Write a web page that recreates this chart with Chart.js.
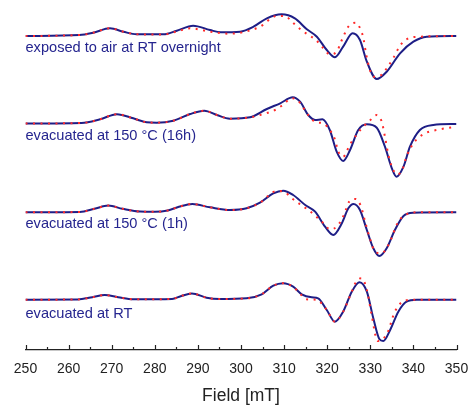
<!DOCTYPE html>
<html>
<head>
<meta charset="utf-8">
<script src="https://cdn.jsdelivr.net/npm/chart.js@4"></script>
<style>
  body { margin: 0; background: #fff; }
  canvas { display: block; }
</style>
</head>
<body>
<canvas id="myChart" width="469" height="405"></canvas>
<script>
// Trace labels, top to bottom
const traceLabels = [
    'exposed to air at RT overnight',
    'evacuated at 150 °C (16h)',
    'evacuated at 150 °C (1h)',
    'evacuated at RT'
];

// Vertical offset of each trace baseline (stacked spectra)
const offsets = [314, 226.5, 137.7, 50.3];

// exposed to air at RT overnight
const airExpField = [250, 262.5, 265.7, 269.6, 272.7, 275.8, 282, 285.1, 288.9, 292.8, 295.3, 299.8, 302.9, 306, 309.4, 312.5, 315.2, 317.6, 319.9, 321.8, 323.7, 325.9, 327.6, 329.2, 331.5, 333.8, 336.9, 340, 343.1, 350];
const airExp = [0, 1, 3.3, 7.7, 4.3, 1.7, 1.7, 5.3, 10.3, 6, 3.7, 4.3, 9.3, 17.7, 21.7, 17.7, 7, -0.7, -14, -21.3, -10.7, 2.7, -4, -25.7, -43, -35.7, -17.3, -5.7, -0.7, 0];
const airSimField = [250, 262.5, 265.7, 269.6, 272.7, 275.8, 282, 285.1, 288.2, 292.8, 297.4, 301, 304.4, 308.3, 310.2, 311.8, 313.7, 315.2, 317.4, 319, 320.6, 322.2, 323.4, 324.1, 324.9, 326.6, 327.8, 328.4, 329, 329.8, 330.7, 332.3, 333.8, 335.3, 336.9, 338.4, 341.5, 350];
const airSim = [0, 1, 3.3, 7.7, 4.3, 1.7, 1.5, 4.5, 7.7, 4.3, 2.3, 4.3, 9.3, 20, 20, 14.3, 7, 2.3, -4, -11.7, -18.3, -15.7, -4, 2.7, 9.3, 13.3, 6, -2.3, -17.3, -32.3, -40.7, -39.7, -32.3, -22.3, -9.7, -3.3, -0.7, 0];

// evacuated at 150 C (16h)
const h16ExpField = [250, 263, 267.3, 271.2, 275, 278.1, 280.4, 284.3, 288.2, 291.5, 294.4, 297.4, 302.1, 306, 309.1, 312, 313.7, 315.6, 317.2, 318.9, 320.6, 322.2, 323.7, 325.3, 327.2, 329.2, 331.5, 333.4, 335, 336.1, 337.7, 339.2, 341.5, 344.6, 350];
const h16Exp = [0, 0.5, 4.2, 9.3, 5.2, 1.2, 0.8, 2.8, 9.5, 12.8, 8.5, 4.8, 6.2, 14.5, 20.2, 26.2, 21.8, 8.5, 3.5, 4.2, -6.5, -28.2, -37.5, -26.5, -6.5, -0.8, -4.2, -23.2, -44.8, -53.2, -43.2, -23.2, -6.5, -1.5, -0.5];
const h16SimField = [250, 263, 267.3, 271.2, 275, 278.1, 280.4, 284.3, 288.2, 291.5, 294.4, 297.4, 302, 304.4, 307.9, 309.7, 311.8, 313.3, 315.6, 317.4, 319.1, 320.6, 321.7, 322.6, 323.7, 325.3, 326.5, 328, 329.8, 331.5, 332.6, 333.4, 334.2, 335, 336.1, 337.3, 338.4, 340, 342.3, 346.2, 350];
const h16Sim = [0, 0.5, 4.2, 9.3, 5.2, 1.2, 0.8, 2.8, 9.5, 12.8, 8.5, 4.8, 6, 8.5, 13.5, 18.5, 25.2, 22.5, 8.5, 1.2, 0.2, -6.5, -14.8, -28.2, -33.2, -20.8, -13.2, -4.8, 2.5, 8.5, 2.5, -13.2, -31.5, -43.2, -50.8, -47.5, -33.2, -19.8, -10.8, -5.8, -3.2];

// evacuated at 150 C (1h)
const h1ExpField = [250, 262.6, 266, 269.2, 272.5, 276.6, 280, 283, 285.6, 288.7, 292.8, 297.4, 301.3, 304.4, 307.5, 309.8, 312.1, 314.9, 317.2, 319.5, 321.4, 323.4, 324.9, 326.1, 327.6, 329.2, 330.7, 332.1, 333.8, 335.7, 337.7, 340, 350];
const h1Exp = [0, 0.3, 3.5, 6.7, 3.5, 0.7, 0.5, 1.8, 5.5, 8.3, 5, 2.3, 4, 9.6, 19, 21.6, 17.3, 7.3, 0.6, -14.4, -22.7, -11, 4, 8.3, 2.3, -17.7, -36, -43.7, -36, -17.7, -3.7, -0.4, 0];
const h1SimField = [250, 262.6, 266, 269.2, 272.5, 276.6, 280, 283, 285.6, 288.7, 292.8, 297.4, 301.3, 304.4, 308.3, 310.2, 311.8, 313.7, 315.6, 317.3, 319, 320.7, 322.2, 323.5, 324.3, 325.1, 326.6, 327.8, 328.8, 329.9, 331.1, 332.6, 334.2, 336.5, 338.4, 341, 350];
const h1Sim = [0, 0.3, 3.5, 6.7, 3.5, 0.7, 0.5, 1.8, 5.5, 8.3, 5, 2.3, 4, 9.6, 21.3, 20, 14, 8, 2.3, -3.7, -10.4, -17, -14.4, -6, 2.3, 10.6, 13.3, 6.3, -9.4, -26, -39.4, -41, -32.7, -9.4, -2, 0, 0];

// evacuated at RT
const rtExpField = [250, 262.1, 265.5, 268.4, 271.5, 275, 284, 286, 288.6, 292, 295.1, 301.3, 304.8, 307.5, 309.8, 312.1, 314.1, 316.4, 317.9, 319.9, 321.8, 323.7, 325.7, 327.5, 329.2, 330.7, 332.1, 333, 334.6, 336.5, 338.4, 340.8, 350];
const rtExp = [0, 0.2, 2.5, 4.7, 2.5, 0.4, 0.8, 3.5, 6.3, 2, 0.7, 1.4, 5.4, 14, 16.4, 13, 5.4, 2.4, 1.4, -10.3, -22, -12, 8, 17.4, 8, -18.6, -39.3, -41.3, -30.3, -12, -2, 0, 0];
const rtSimField = [250, 262.1, 265.5, 268.4, 271.5, 275, 284, 286, 288.6, 292, 295.1, 301.3, 304.8, 307.5, 309.8, 312.1, 313.7, 315.2, 317.5, 319.9, 321.8, 323.7, 325.7, 326.8, 328, 329.2, 330.3, 331.7, 333.8, 334.6, 335.1, 336, 337.3, 340, 350];
const rtSim = [0, 0.2, 2.5, 4.7, 2.5, 0.4, 0.8, 3.5, 6.3, 2, 0.7, 1.4, 5.4, 14, 16.4, 13, 6, 0.4, 0, -10.3, -22, -12, 8, 18.7, 21.4, 10, -15, -41.3, -34.7, -26, -18.7, -9.6, -2.6, 0, 0];

const expSets = [[airExpField, airExp], [h16ExpField, h16Exp], [h1ExpField, h1Exp], [rtExpField, rtExp]];
const simSets = [[airSimField, airSim], [h16SimField, h16Sim], [h1SimField, h1Sim], [rtSimField, rtSim]];

function toPoints(xs, ys, off) {
    return xs.map((x, i) => ({ x: x, y: ys[i] + off }));
}

const datasets = [];
expSets.forEach((s, i) => {
    datasets.push({
        label: traceLabels[i] + ' exp',
        data: toPoints(s[0], s[1], offsets[i]),
        borderColor: '#1e1e86',
        borderWidth: 2,
        cubicInterpolationMode: 'monotone',
        pointRadius: 0,
        order: 1
    });
});
simSets.forEach((s, i) => {
    datasets.push({
        label: traceLabels[i] + ' sim',
        data: toPoints(s[0], s[1], offsets[i]),
        borderColor: '#ff2b2b',
        borderWidth: 2,
        borderDash: [2, 5.5],
        cubicInterpolationMode: 'monotone',
        pointRadius: 0,
        order: 0
    });
});

// inward major/minor ticks on the field axis
const innerTicks = {
    id: 'innerTicks',
    afterDraw(chart) {
        const xs = chart.scales.x;
        const c = chart.ctx;
        const yb = chart.chartArea.bottom;
        c.save();
        c.strokeStyle = '#222';
        c.lineWidth = 1.2;
        for (let v = 250; v <= 350; v += 5) {
            const px = Math.round(xs.getPixelForValue(v)) + 0.5;
            const len = (v % 10 === 0) ? 5 : 3;
            c.beginPath();
            c.moveTo(px, yb);
            c.lineTo(px, yb - len);
            c.stroke();
        }
        c.restore();
    }
};

// text labels under each trace
const labelDy = [16, 16, 16, 18];
const traceText = {
    id: 'traceText',
    afterDraw(chart) {
        const ys = chart.scales.y;
        const c = chart.ctx;
        c.save();
        c.fillStyle = '#25258f';
        c.font = '14.6px "Liberation Sans", Arial, sans-serif';
        c.textBaseline = 'alphabetic';
        traceLabels.forEach((t, i) => {
            c.fillText(t, chart.chartArea.left, ys.getPixelForValue(offsets[i]) + labelDy[i]);
        });
        c.restore();
    }
};

const ctx = document.getElementById('myChart').getContext('2d');
const myChart = new Chart(ctx, {
    type: 'line',
    data: { datasets: datasets },
    options: {
        responsive: false,
        animation: false,
        layout: { padding: { left: 25.5, right: 12.5, top: 0, bottom: 0 } },
        plugins: {
            legend: { display: false },
            tooltip: { enabled: false }
        },
        scales: {
            x: {
                type: 'linear',
                min: 250,
                max: 350,
                afterFit(scale) {
                    scale.paddingLeft = 0;
                    scale.paddingRight = 0;
                    scale.height = 55;
                },
                grid: { display: false, drawTicks: false },
                border: { display: true, color: '#222', width: 1.3 },
                ticks: {
                    stepSize: 10,
                    color: '#222',
                    padding: 11,
                    font: { family: 'Liberation Sans', size: 14 }
                },
                title: {
                    display: true,
                    text: 'Field [mT]',
                    color: '#222',
                    font: { family: 'Liberation Sans', size: 17.5 },
                    padding: { top: 0, bottom: -2 }
                }
            },
            y: { display: false, min: 0, max: 350 }
        }
    },
    plugins: [innerTicks, traceText]
});
</script>
</body>
</html>
